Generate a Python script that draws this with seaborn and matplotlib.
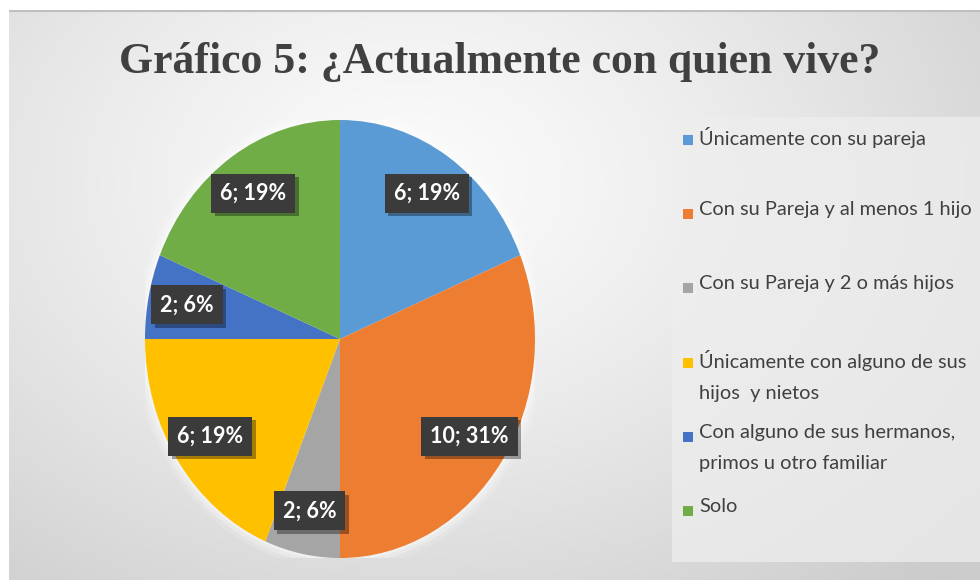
import numpy as np
import matplotlib
matplotlib.use("Agg")
import matplotlib.pyplot as plt
import matplotlib.patheffects as pe
import seaborn as sns
from matplotlib.patches import Rectangle, Ellipse

sns.set_theme(style="white")
plt.rcParams['font.family'] = ['Lato', 'DejaVu Sans']

categories = [
    "Únicamente con su pareja",
    "Con su Pareja y al menos 1 hijo",
    "Con su Pareja y 2 o más hijos",
    "Únicamente con alguno de sus\nhijos  y nietos",
    "Con alguno de sus hermanos,\nprimos u otro familiar",
    "Solo",
]
values = [6, 10, 2, 6, 2, 6]
colors = ["#5B9BD5", "#ED7D31", "#A5A5A5", "#FFC000", "#4472C4", "#70AD47"]
title = "Gráfico 5: ¿Actualmente con quien vive?"

W, H = 980, 580
fig = plt.figure(figsize=(W / 100, H / 100), dpi=100)
fig.patch.set_facecolor("white")

# background gradient (chart area)
bg = fig.add_axes([9 / W, 0, 1 - 9 / W, 1 - 10 / H], zorder=0)
yy, xx = np.mgrid[0:200, 0:340]
cx, cy = 140, 60
d = np.sqrt(((xx - cx) / 260.0) ** 2 + ((yy - cy) / 190.0) ** 2)
d = np.clip(d, 0, 1)
light, dark = 0.985, 0.80
img = light - (light - dark) * d ** 1.3
bg.imshow(np.dstack([img, img, img]), aspect="auto", extent=[0, 1, 0, 1], origin="upper")
bg.axhline(1, color="#BFBFBF", lw=3)
bg.set_axis_off()

# legend background panel
fig.patches.append(Rectangle((672 / W, 1 - 562 / H), (W - 672) / W, (562 - 117) / H,
                             transform=fig.transFigure, facecolor="#EEEEEE", alpha=0.75,
                             edgecolor="none", zorder=1))

# pie (elliptical)
cxp, cyp, rx, ry = 340, 339, 195, 219
ax = fig.add_axes([(cxp - rx) / W, 1 - (cyp + ry) / H, 2 * rx / W, 2 * ry / H], zorder=2)
ax.patch.set_alpha(0)
# soft glow behind the pie
for k, a in [(1.05, 0.15), (1.03, 0.25), (1.012, 0.35)]:
    ax.add_patch(Ellipse((0, 0), 2 * k, 2 * k, facecolor="white", alpha=a,
                         edgecolor="none", zorder=0))
total = sum(values)
wedges, texts, autotexts = ax.pie(
    values, colors=colors, startangle=90, counterclock=False,
    autopct=lambda p: f"{int(round(p * total / 100))}; {p:.0f}%",
    pctdistance=0.8, wedgeprops=dict(linewidth=0),
    textprops=dict(color="white", fontsize=15.5, fontweight="bold"),
)
for t in autotexts:
    t.set_bbox(dict(boxstyle="square,pad=0.42", facecolor="#3B3B3B", edgecolor="none"))
    t.get_bbox_patch().set_path_effects(
        [pe.SimplePatchShadow(offset=(2.5, -2.5), shadow_rgbFace="black", alpha=0.35),
         pe.Normal()])
ax.set_xlim(-1, 1)
ax.set_ylim(-1, 1)
ax.set_aspect("auto")
ax.set_axis_off()

# title
fig.text(500 / W, 1 - 62 / H, title, ha="center", va="center",
         family="Liberation Serif", fontweight="bold", fontsize=31.5, color="#404040")

# legend entries
for i, (lab, col) in enumerate(zip(categories, colors)):
    y = 140 + 74.2 * i
    fig.patches.append(Rectangle((683 / W, 1 - (y + 5) / H), 10 / W, 10 / H,
                                 transform=fig.transFigure, facecolor=col,
                                 edgecolor="none", zorder=3))
    fig.text(699 / W, 1 - (y - 13) / H, lab, ha="left", va="top", fontsize=14.4,
             color="#404040", linespacing=2.0, zorder=3)

fig.savefig("out.png", dpi=100)
